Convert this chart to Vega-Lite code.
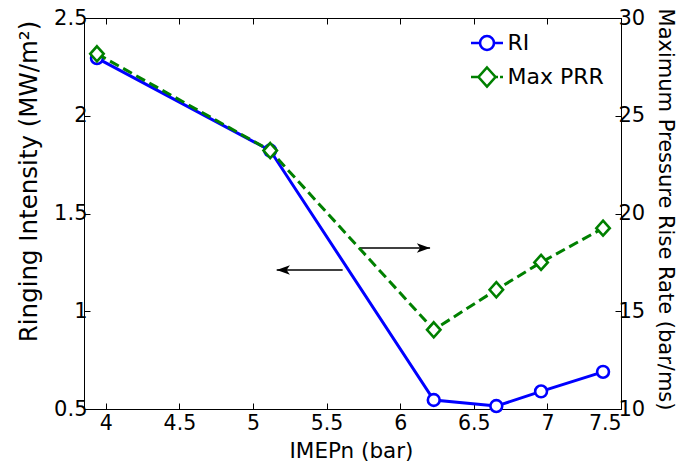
{
  "$schema": "https://vega.github.io/schema/vega-lite/v6.json",
  "width": 537,
  "height": 391,
  "autosize": "none",
  "padding": {"left": 84, "top": 18, "right": 61, "bottom": 57},
  "background": "white",
  "config": {
    "view": {"stroke": "black", "strokeWidth": 1},
    "font": "DejaVu Sans",
    "axis": {
      "domainColor": "black", "tickColor": "black", "labelColor": "black", "titleColor": "black",
      "grid": false, "labelFont": "DejaVu Sans", "titleFont": "DejaVu Sans",
      "labelFontSize": 21, "titleFontSize": 21.5, "titleFontWeight": "normal",
      "tickSize": -6, "tickWidth": 1, "domainWidth": 1, "labelOverlap": false
    }
  },
  "datasets": {
    "pts": [
      {"imep": 3.94, "ri": 2.295, "prr": 28.17},
      {"imep": 5.117, "ri": 1.822, "prr": 23.22},
      {"imep": 6.228, "ri": 0.546, "prr": 14.05},
      {"imep": 6.653, "ri": 0.515, "prr": 16.1},
      {"imep": 6.957, "ri": 0.59, "prr": 17.5},
      {"imep": 7.378, "ri": 0.69, "prr": 19.25}
    ],
    "arrows": [
      {"from": 5.609, "to": 5.161, "y": 1.211, "dir": "left"},
      {"from": 5.727, "to": 6.203, "y": 1.3235, "dir": "right"}
    ]
  },
  "resolve": {"scale": {"y": "independent"}, "axis": {"x": "independent"}},
  "layer": [
    {
      "layer": [
        {
          "data": {"name": "pts"},
          "mark": {"type": "line", "strokeWidth": 3},
          "encoding": {
            "x": {"field": "imep", "type": "quantitative", "scale": {"domain": [3.852, 7.5], "nice": false, "zero": false},
                  "axis": {"orient": "bottom", "title": "IMEPn (bar)", "values": [4, 4.5, 5, 5.5, 6, 6.5, 7, 7.5], "format": "~g", "labelFontSize": 20.5, "labelPadding": 10, "titleX": 267, "titleY": 42.5, "titleBaseline": "middle"}},
            "y": {"field": "ri", "type": "quantitative", "scale": {"domain": [0.5, 2.5], "nice": false, "zero": false},
                  "axis": {"orient": "left", "title": "Ringing Intensity (MW/m²)", "values": [0.5, 1, 1.5, 2, 2.5], "format": "~g", "labelPadding": 3, "titleFontSize": 24.5, "titleX": -55, "titleY": 163, "titleBaseline": "middle", "titleAngle": -90}},
            "color": {"datum": "RI", "type": "nominal",
                      "scale": {"domain": ["RI", "Max PRR"], "range": ["#0000ff", "#008000"]},
                      "legend": {
                        "orient": "none", "legendX": 391.5, "legendY": 13.5, "title": null,
                        "symbolSize": 400, "symbolStrokeWidth": 2.5, "labelFontSize": 22, "labelFont": "DejaVu Sans", "labelColor": "black",
                        "labelOffset": 9, "rowPadding": 6, "padding": 0,
                        "encode": {"symbols": {"update": {
                          "shape": {"signal": "datum.value === 'RI' ? 'M-1.6,0L-0.7,0M0.7,0L1.6,0M0.7,0A0.7,0.7,0,1,1,-0.7,0A0.7,0.7,0,1,1,0.7,0' : 'M-1.6,0L-0.85,0M0.85,0L1.1,0M1.3,0L1.6,0M0,-0.95L0.85,0L0,0.95L-0.85,0Z'"},
                          "strokeDash": {"value": []},
                          "fill": {"value": "transparent"},
                          "strokeWidth": {"value": 2.6}
                        }}}
                      }}
          }
        },
        {
          "data": {"name": "pts"},
          "mark": {"type": "point", "shape": "circle", "filled": true, "fill": "white", "stroke": "#0000ff", "strokeWidth": 2.6, "size": 140, "opacity": 1},
          "encoding": {
            "x": {"field": "imep", "type": "quantitative", "axis": {"orient": "bottom", "title": "IMEPn (bar)"}},
            "y": {"field": "ri", "type": "quantitative"}
          }
        },
        {
          "data": {"name": "arrows"},
          "mark": {"type": "rule", "color": "black", "strokeWidth": 1.3},
          "encoding": {
            "x": {"field": "from", "type": "quantitative", "axis": {"orient": "bottom", "title": "IMEPn (bar)"}},
            "x2": {"field": "to"},
            "y": {"field": "y", "type": "quantitative"}
          }
        },
        {
          "data": {"name": "arrows"},
          "mark": {"type": "point", "filled": true, "color": "black", "size": 700, "opacity": 1, "strokeWidth": 0},
          "encoding": {
            "x": {"field": "to", "type": "quantitative", "axis": {"orient": "bottom", "title": "IMEPn (bar)"}},
            "y": {"field": "y", "type": "quantitative"},
            "shape": {"field": "dir", "type": "nominal", "legend": null,
                      "scale": {"domain": ["left", "right"], "range": ["M0,0L1,-0.36L0.75,0L1,0.36Z", "M0,0L-1,-0.36L-0.75,0L-1,0.36Z"]}}
          }
        }
      ]
    },
    {
      "data": {"name": "pts"},
      "layer": [
        {
          "mark": {"type": "line", "strokeWidth": 3, "strokeDash": [10, 5]},
          "encoding": {
            "x": {"field": "imep", "type": "quantitative", "axis": {"orient": "top", "title": null, "labels": false, "values": [4, 4.5, 5, 5.5, 6, 6.5, 7, 7.5]}},
            "y": {"field": "prr", "type": "quantitative", "scale": {"domain": [10, 30], "nice": false, "zero": false},
                  "axis": {"orient": "right", "title": "Maximum Pressure Rise Rate (bar/ms)", "values": [10, 15, 20, 25, 30], "labelPadding": 3, "titleFontSize": 21, "titleX": 43, "titleY": 191, "titleBaseline": "middle", "titleAngle": 90}},
            "color": {"datum": "Max PRR", "type": "nominal"}
          }
        },
        {
          "mark": {"type": "point", "shape": "M0,-0.95L0.85,0L0,0.95L-0.85,0Z", "filled": true, "fill": "white", "stroke": "#008000", "strokeWidth": 2.6, "size": 250, "opacity": 1},
          "encoding": {
            "x": {"field": "imep", "type": "quantitative", "axis": {"orient": "top", "title": null, "labels": false}},
            "y": {"field": "prr", "type": "quantitative"}
          }
        }
      ]
    }
  ]
}
